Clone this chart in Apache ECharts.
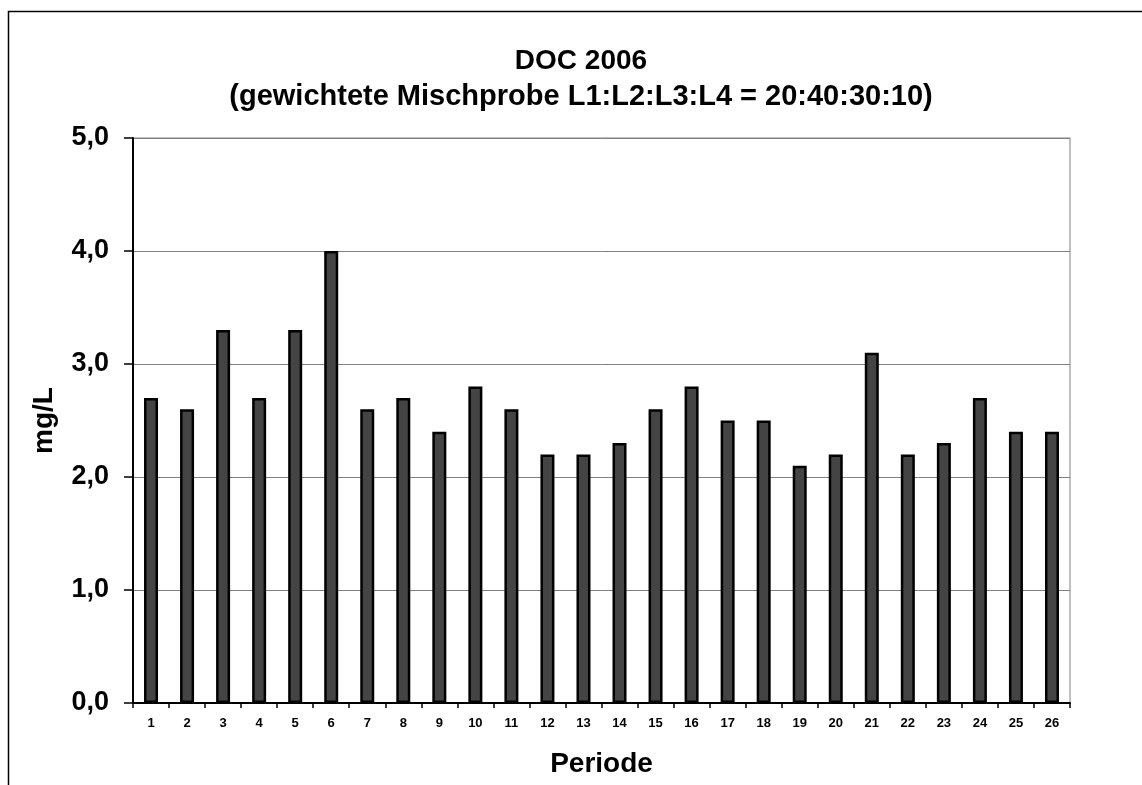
<!DOCTYPE html>
<html>
<head>
<meta charset="utf-8">
<script src="https://cdn.jsdelivr.net/npm/echarts@6/dist/echarts.min.js"></script>
<style>
  html, body { margin: 0; padding: 0; background: #fff; }
  #chart { width: 1142px; height: 785px; }
</style>
</head>
<body>
<div id="chart"></div>
<script>
// DOC concentration per sampling period, 2006
const periods = ['1','2','3','4','5','6','7','8','9','10','11','12','13','14','15','16','17','18','19','20','21','22','23','24','25','26'];
const docValues = [2.7, 2.6, 3.3, 2.7, 3.3, 4.0, 2.6, 2.7, 2.4, 2.8, 2.6, 2.2, 2.2, 2.3, 2.6, 2.8, 2.5, 2.5, 2.1, 2.2, 3.1, 2.2, 2.3, 2.7, 2.4, 2.4];
const titleLines = ['DOC 2006', '(gewichtete Mischprobe L1:L2:L3:L4 = 20:40:30:10)'];

const FONT = '"Liberation Sans", Arial, sans-serif';
const chart = echarts.init(document.getElementById('chart'), null, { renderer: 'canvas' });

chart.setOption({
  backgroundColor: '#fff',
  animation: false,
  title: {
    text: '{a|' + titleLines[0] + '}\n{b|' + titleLines[1] + '}',
    left: 576,
    top: 38,
    textAlign: 'center',
    textStyle: {
      fontFamily: FONT, fontWeight: 'bold', fontSize: 28, color: '#000',
      rich: {
        a: { fontFamily: FONT, fontWeight: 'bold', fontSize: 28, lineHeight: 36, color: '#000', align: 'center' },
        b: { fontFamily: FONT, fontWeight: 'bold', fontSize: 29, lineHeight: 36, color: '#000', align: 'center' }
      }
    }
  },
  graphic: [
    // outer chart frame (top and left edges)
    { type: 'polyline', shape: { points: [[8.5, 785], [8.5, 11.5], [1142, 11.5]] },
      style: { stroke: '#000', lineWidth: 1.5, fill: null }, silent: true }
  ],
  grid: {
    left: 133, right: 72, top: 138, bottom: 82,
    outerBoundsMode: 'none',
    containLabel: false,
    show: true, borderColor: '#808080', borderWidth: 1
  },
  xAxis: {
    type: 'category',
    data: periods,
    name: 'Periode',
    nameLocation: 'middle',
    nameGap: 47,
    nameTextStyle: { fontFamily: FONT, fontWeight: 'bold', fontSize: 28, color: '#000' },
    axisLine: { lineStyle: { color: '#000', width: 2 } },
    axisTick: { show: true, length: 5, lineStyle: { color: '#000', width: 1.5 } },
    axisLabel: { fontFamily: FONT, fontWeight: 'bold', fontSize: 13, color: '#000', margin: 14, interval: 0 }
  },
  yAxis: {
    type: 'value',
    min: 0, max: 5, interval: 1,
    name: 'mg/L',
    nameLocation: 'middle',
    nameGap: 75,
    nameRotate: 90,
    nameTextStyle: { fontFamily: FONT, fontWeight: 'bold', fontSize: 28, color: '#000' },
    axisLine: { show: true, lineStyle: { color: '#000', width: 2 } },
    axisTick: { show: true, length: 9, lineStyle: { color: '#000', width: 1.5 } },
    axisLabel: {
      fontFamily: FONT, fontWeight: 'bold', fontSize: 27, color: '#000', margin: 24,
      formatter: v => v.toFixed(1).replace('.', ',')
    },
    splitLine: { show: true, lineStyle: { color: '#808080', width: 1 } }
  },
  series: [{
    type: 'bar',
    data: docValues,
    barWidth: 14,
    itemStyle: { color: '#444444', borderColor: '#000', borderWidth: 2.5 }
  }]
});
</script>
</body>
</html>
